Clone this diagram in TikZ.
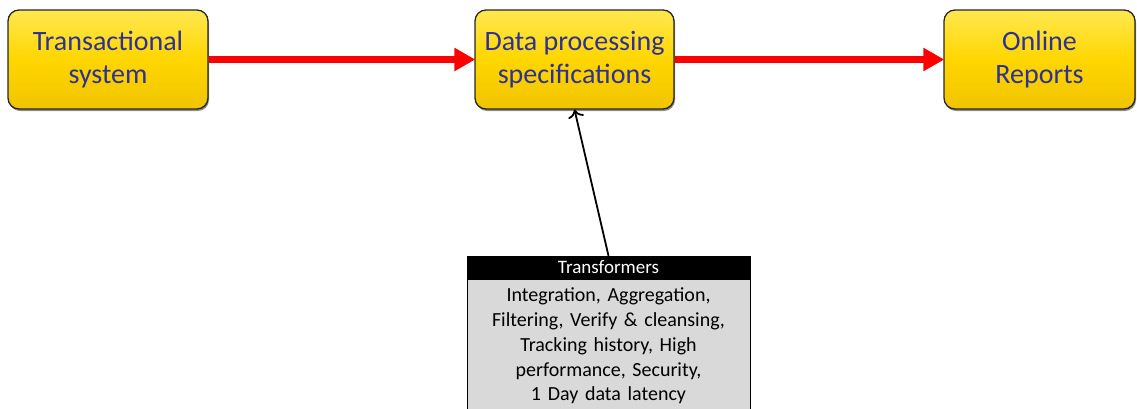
\documentclass[tikz,border=0pt]{standalone}
\usepackage{fontspec}
\setmainfont{Carlito}
\usetikzlibrary{arrows.meta,shadows,positioning}
\definecolor{boxtext}{RGB}{46,49,146}
\definecolor{gold1}{RGB}{255,232,80}
\definecolor{gold2}{RGB}{255,214,0}
\definecolor{gold3}{RGB}{240,196,0}
\definecolor{graybody}{RGB}{217,217,217}
\tikzset{
  ybox/.style={draw=black!85, line width=1.3pt, rounded corners=11pt,
    top color=gold1, bottom color=gold3, middle color=gold2,
    drop shadow={shadow xshift=1pt, shadow yshift=-2pt, opacity=0.45, fill=black},
    minimum height=99pt, align=center, text=boxtext,
    font=\fontsize{28}{33}\selectfont, inner sep=0pt},
  redarrow/.style={draw=red, line width=7pt, -{Triangle[length=21pt,width=22pt]}, shorten >=-1pt},
  blackarrow/.style={draw=black, line width=1.8pt, -{To[length=8pt,width=16pt,line width=1.8pt]}},
  hdr/.style={draw=black, fill=black, text=white, minimum width=283pt, minimum height=23pt,
    inner sep=0pt, font=\fontsize{19}{20}\selectfont},
  bodybox/.style={draw=black, line width=1pt, fill=graybody, minimum width=283pt, text width=280pt,
    align=center, inner xsep=1.5pt, inner ysep=8pt, font=\fontsize{20}{24.9}\selectfont, anchor=north}
}
\begin{document}
\begin{tikzpicture}[x=1pt,y=-1pt]
\useasboundingbox (0,0) rectangle (1137,408);
\node[ybox, minimum width=200pt] (b1) at (108,59.5) {Transactional\\system};
\node[ybox, minimum width=199pt] (b2) at (574.5,59.5) {Data processing\\specifications};
\node[ybox, minimum width=191pt] (b3) at (1039.5,59.5) {Online\\Reports};
\draw[redarrow] (b1) -- (b2);
\draw[redarrow] (b2) -- (b3);
\node[hdr] (tr) at (608.5,267.5) {Transformers};
\node[bodybox] (tb) at (608.5,279) {Integration, Aggregation,\\Filtering, Verify \& cleansing,\\Tracking history, High\\performance, Security,\\1 Day data latency\\[10pt]\mbox{}};
\draw[blackarrow] (tr.north) -- (b2.south);
\end{tikzpicture}
\end{document}
